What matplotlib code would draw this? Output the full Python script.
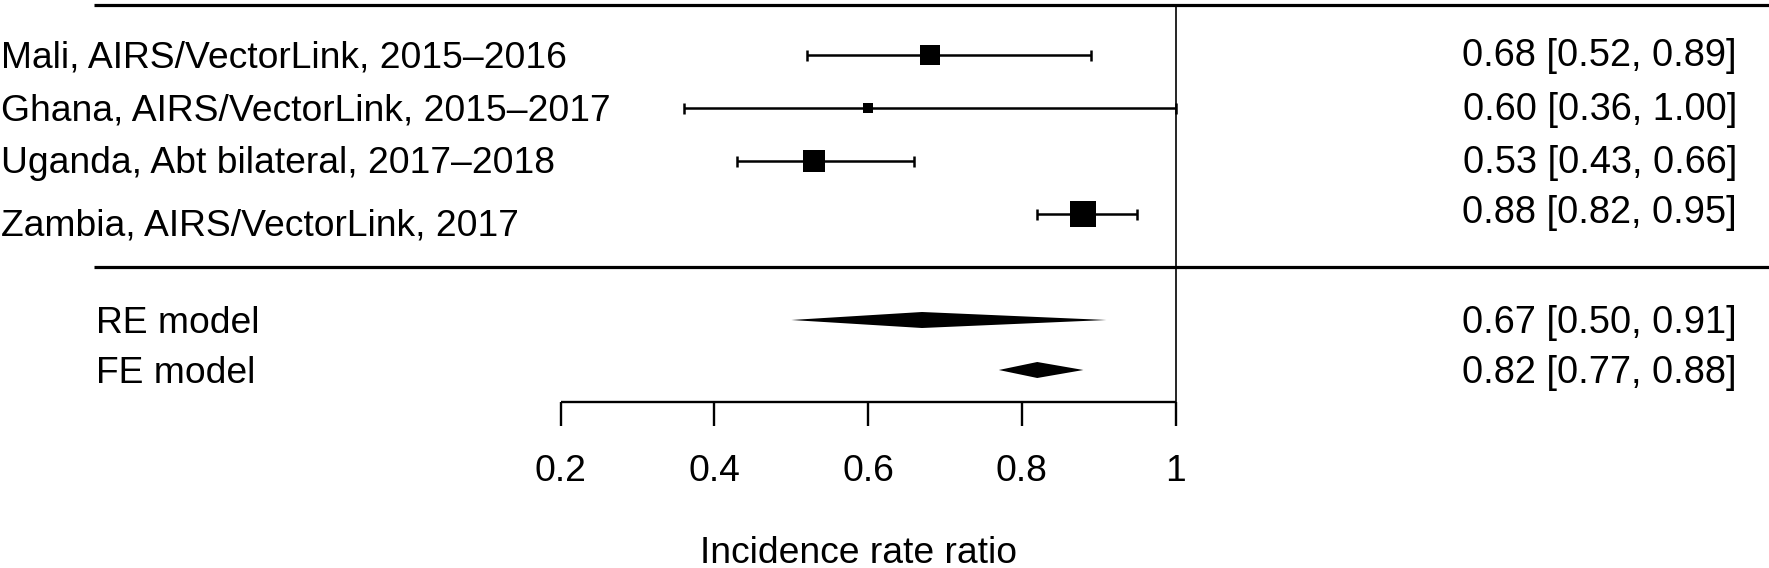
import matplotlib
matplotlib.use("Agg")
import matplotlib.pyplot as plt

# ---------------- data ----------------
studies = ["Mali, AIRS/VectorLink, 2015–2016",
           "Ghana, AIRS/VectorLink, 2015–2017",
           "Uganda, Abt bilateral, 2017–2018",
           "Zambia, AIRS/VectorLink, 2017"]
irr = [0.68, 0.60, 0.53, 0.88]
ci_low = [0.52, 0.36, 0.43, 0.82]
ci_high = [0.89, 1.00, 0.66, 0.95]
weights = [25.3, 16.5, 27.2, 31.0]          # relative study weights (%)

models = ["RE model", "FE model"]
model_est = [0.67, 0.82]
model_low = [0.50, 0.77]
model_high = [0.91, 0.88]

xticks = [0.2, 0.4, 0.6, 0.8, 1.0]
xtick_labels = ["0.2", "0.4", "0.6", "0.8", "1"]
xlabel = "Incidence rate ratio"

# ---------------- layout ----------------
plt.rcParams['font.family'] = ['Liberation Sans', 'DejaVu Sans']
FS = 26.8
FS_R = 27.4
W, H = 1769, 568
X0PX, UNIT = 407.0, 768.6      # pixel of x=0 and pixels per unit


def px(p):
    return (p - X0PX) / UNIT


fig = plt.figure(figsize=(W / 100, H / 100), dpi=100)
ax = fig.add_axes([0, 0, 1, 1])
ax.axis('off')
ax.set_xlim(px(0), px(W))
ax.set_ylim(H, 0)

row_y = [55, 108, 161, 214]
label_dy = [0, 0, 0, 9]
right_dy = [-1, 0, 0, -3]
model_y = [320, 370]
top_y, mid_y, axis_y = 5, 267, 402
BASE = 13.2   # baseline offset from visual centre (px)

# horizontal separator lines
ax.hlines([top_y, mid_y], px(94), px(W), color='black', lw=2.3)
# reference line at 1
ax.vlines(1.0, top_y, axis_y, color='black', lw=1.2)

# studies
wmin, wmax = min(weights), max(weights)
for i, name in enumerate(studies):
    y = row_y[i]
    ax.hlines(y, ci_low[i], ci_high[i], color='black', lw=1.8)
    ax.vlines([ci_low[i], ci_high[i]], y - 5.5, y + 5.5, color='black', lw=1.8)
    size_px = 10 + 16 * (weights[i] - wmin) / (wmax - wmin)
    ax.plot(irr[i], y, marker='s', ms=size_px * 0.72, mew=0, color='black')
    ax.text(px(1), y + label_dy[i] - 1 + BASE, name, fontsize=FS, ha='left', va='baseline')
    ax.text(px(1737), y + right_dy[i] - 1 + BASE,
            f"{irr[i]:.2f} [{ci_low[i]:.2f}, {ci_high[i]:.2f}]",
            fontsize=FS_R, ha='right', va='baseline')

# summary diamonds
for j, name in enumerate(models):
    y = model_y[j]
    ax.fill([model_low[j], model_est[j], model_high[j], model_est[j]],
            [y, y - 8, y, y + 8], color='black', lw=0)
    ax.text(px(96), y + BASE, name, fontsize=FS, ha='left', va='baseline')
    ax.text(px(1737), y + BASE,
            f"{model_est[j]:.2f} [{model_low[j]:.2f}, {model_high[j]:.2f}]",
            fontsize=FS_R, ha='right', va='baseline')

# x axis
ax.hlines(axis_y, xticks[0], xticks[-1], color='black', lw=1.7)
ax.vlines(xticks, axis_y, axis_y + 24, color='black', lw=1.7)
for t, lab in zip(xticks, xtick_labels):
    ax.text(t, 468 + BASE, lab, fontsize=FS, ha='center', va='baseline')
ax.text(px(858), 550 + BASE, xlabel, fontsize=FS,
        ha='center', va='baseline')

fig.savefig("out.png", dpi=100)
